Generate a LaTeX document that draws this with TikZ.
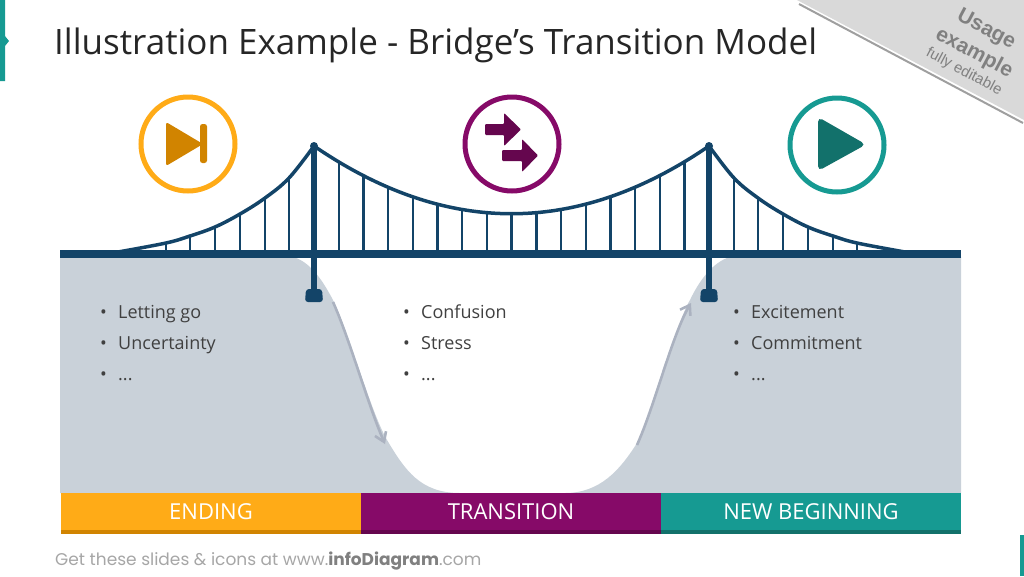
\documentclass[tikz,border=0pt]{standalone}
\usepackage{fontspec}
\setmainfont{Open Sans}
\newfontfamily\footfont{Poppins}
\newfontfamily\tagfont{Liberation Sans}
\usetikzlibrary{arrows.meta}

\definecolor{deckblue}{HTML}{134468}
\definecolor{groundgrey}{HTML}{C9D1D9}
\definecolor{pathgrey}{HTML}{ABB2C0}
\definecolor{endorange}{HTML}{FFAB17}
\definecolor{endorangedk}{HTML}{D18400}
\definecolor{midpurple}{HTML}{860A68}
\definecolor{midpurpledk}{HTML}{65064E}
\definecolor{newteal}{HTML}{169A92}
\definecolor{newtealdk}{HTML}{12716B}
\definecolor{inktext}{HTML}{404040}
\definecolor{markblue}{HTML}{E6EBF7}
\newcommand{\moredots}{...}

\tikzset{
    cable/.style={draw=deckblue, line width=3.5pt},
    hanger/.style={draw=deckblue, line width=2.4pt},
    ring/.style={circle, draw, line width=5pt, minimum size=94pt, inner sep=0pt, fill=white},
    bar/.style={minimum width=300pt, minimum height=37pt, inner sep=0pt, text=white, font=\fontsize{22}{26}\selectfont},
    item/.style={anchor=base west, inner sep=0pt, text=inktext, font=\fontsize{18}{22}\selectfont},
    stamp/.style={rotate=12, inner sep=0pt, text=markblue, font=\fontsize{9}{11}\selectfont},
    journey/.style={draw=pathgrey, line width=2.6pt, -{Straight Barb[length=9pt,width=12pt]}}
}

\begin{document}
\begin{tikzpicture}[x=1pt, y=-1pt]
    \useasboundingbox (0,0) rectangle (1024,576);

    % slide marks
    \fill[newteal] (0,0) -- (5,0) -- (5,36) -- (9,41) -- (5,46) -- (5,81) -- (0,81) -- cycle;
    \fill[newteal] (1020,535) rectangle (1024,576);

    % corner tag
    \draw[gray!75, line width=2pt] (799,4) -- (1023,123);
    \fill[gray!30] (797,0) -- (1024,0) -- (1024,120) -- cycle;
    \node[rotate=-28, text=gray, font=\tagfont\bfseries\fontsize{21}{24}\selectfont, inner sep=0pt] (tagusage) at (986,30) {Usage};
    \node[rotate=-28, text=gray, font=\tagfont\bfseries\fontsize{21}{24}\selectfont, inner sep=0pt] (tagexample) at (974,53) {example};
    \node[rotate=-28, text=gray, font=\tagfont\fontsize{15}{18}\selectfont, inner sep=0pt] (tagfully) at (964,72) {fully editable};

    % title
    \node[anchor=base west, inner sep=0pt, text=black!85, font=\fontsize{35}{40}\selectfont] (title) at (54,54) {Illustration Example - Bridge's Transition Model};

    % ground with the valley cut out
    \fill[groundgrey] (60,257) -- (293,257)
        .. controls (312,262) and (325,285) .. (333,300)
        .. controls (350,335) and (370,410) .. (387,440)
        .. controls (405,470) and (420,493) .. (460,493)
        -- (565,493)
        .. controls (600,493) and (620,470) .. (637,443)
        .. controls (655,410) and (675,325) .. (690,300)
        .. controls (698,283) and (712,262) .. (730,257)
        -- (961,257) -- (961,493) -- (60,493) -- cycle;

    % hangers
    \foreach \x/\y in {166/243, 190/236, 215/227, 240/214, 265/198, 289/178} {
        \draw[hanger] (\x,\y) -- (\x,252);
        \draw[hanger] ({1023-\x},\y) -- ({1023-\x},252);
    }
    \foreach \k in {1,...,15} {
        \pgfmathsetmacro{\hx}{314+24.7*\k}
        \pgfmathsetmacro{\hy}{214-67*((\hx-511.5)/197.5)^2}
        \draw[hanger] (\hx,\hy) -- (\hx,252);
    }

    % cables
    \draw[cable] plot[smooth, tension=0.6] coordinates {(118,252) (166,243) (190,236) (215,227) (240,214) (265,198) (289,178) (314,146)};
    \draw[cable] plot[smooth, tension=0.6] coordinates {(905,252) (857,243) (833,236) (808,227) (783,214) (758,198) (734,178) (709,146)};
    \draw[cable] (314,146) .. controls (445.7,236.3) and (577.3,236.3) .. (709,146);

    % towers
    \foreach \x in {314,709} {
        \draw[deckblue, line width=5.5pt] (\x,146) -- (\x,292);
        \fill[deckblue] (\x,146) circle (4pt);
        \fill[deckblue, rounded corners=3pt] ({\x-9},302) -- ({\x-8},289) -- ({\x+8},289) -- ({\x+9},302) -- cycle;
    }

    % deck
    \fill[deckblue] (60,250) rectangle (961,257.5);

    % icons
    \node[ring, draw=endorange] (ringend) at (188,144) {};
    \node[ring, draw=midpurple] (ringmid) at (512,144) {};
    \node[ring, draw=newteal] (ringnew) at (837,145) {};
    \fill[endorangedk, rounded corners=2.5pt] (166,122) -- (203,144) -- (166,166) -- cycle;
    \fill[endorangedk, rounded corners=2.5pt] (200,124) rectangle (207,163);
    \fill[midpurpledk, rounded corners=1pt] (485,124) -- (504,124) -- (504,113) -- (521,129.5) -- (504,146) -- (504,135) -- (485,135) -- cycle;
    \fill[midpurpledk, rounded corners=1pt] (502,150) -- (522,150) -- (522,139) -- (538,155.5) -- (522,172) -- (522,161) -- (502,161) -- cycle;
    \fill[newtealdk, rounded corners=5pt] (818,117) -- (866,144.5) -- (818,171) -- cycle;

    % lists
    \foreach \txt [count=\i] in {Letting go, Uncertainty, \moredots} {
        \node[item] (endbul\i) at (100,{318+31*(\i-1)}) {•};
        \node[item] (enditem\i) at (118,{318+31*(\i-1)}) {\txt};
    }
    \foreach \txt [count=\i] in {Confusion, Stress, \moredots} {
        \node[item] (midbul\i) at (403,{318+31*(\i-1)}) {•};
        \node[item] (miditem\i) at (421,{318+31*(\i-1)}) {\txt};
    }
    \foreach \txt [count=\i] in {Excitement, Commitment, \moredots} {
        \node[item] (newbul\i) at (733,{318+31*(\i-1)}) {•};
        \node[item] (newitem\i) at (751,{318+31*(\i-1)}) {\txt};
    }

    % path down and up
    \coordinate (dropstart) at (333,302);
    \coordinate (dropend) at (385,444);
    \coordinate (risestart) at (637,445);
    \coordinate (riseend) at (691,303);
    \draw[journey] (dropstart) .. controls (350,340) and (368,405) .. (dropend);
    \draw[journey] (risestart) .. controls (655,405) and (672,335) .. (riseend);

    % phase bars
    \fill[endorangedk] (61,530) rectangle (361,534);
    \fill[midpurpledk] (361,530) rectangle (661,534);
    \fill[newtealdk] (661,530) rectangle (961,534);
    \node[bar, fill=endorange] (barend) at (211,511.5) {ENDING};
    \node[bar, fill=midpurple] (barmid) at (511,511.5) {TRANSITION};
    \node[bar, fill=newteal] (barnew) at (811,511.5) {NEW BEGINNING};

    % footer
    \node[anchor=base west, inner sep=0pt, text=gray!70, font=\footfont\fontsize{17}{20}\selectfont] (footer) at (55,565) {Get these slides \& icons at www.\textbf{\textcolor{gray}{infoDiagram}}.com};
\end{tikzpicture}
\end{document}
